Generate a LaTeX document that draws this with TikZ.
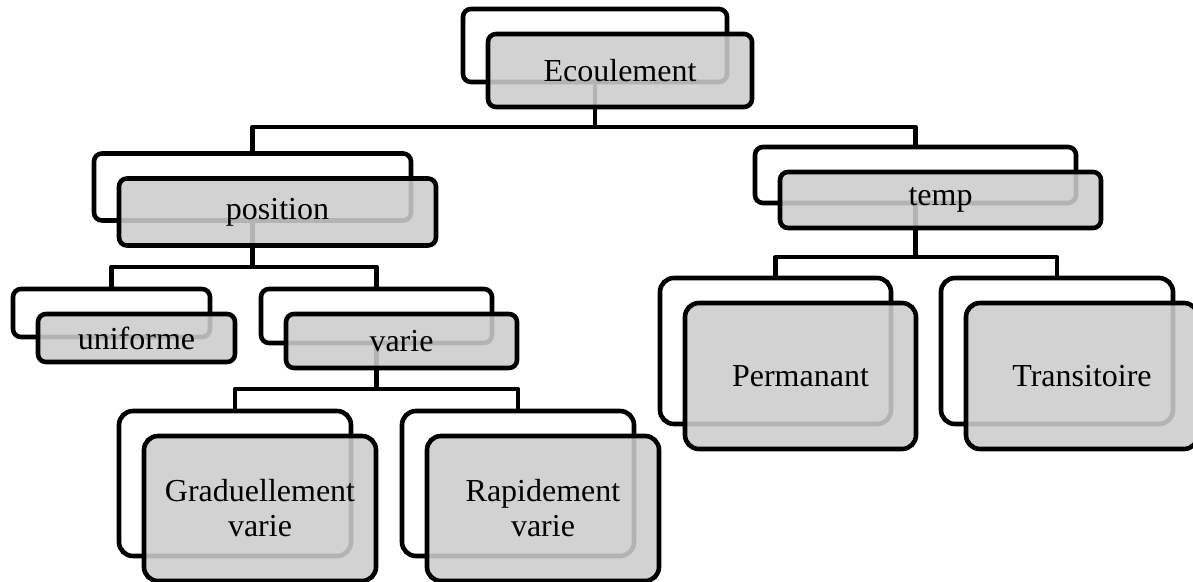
\documentclass[tikz,border=0pt]{standalone}
\usepackage{fontspec}
\setmainfont{Liberation Serif}
\definecolor{boxgray}{RGB}{204,204,204}
\begin{document}
\begin{tikzpicture}[x=0.5pt, y=-0.5pt,
  backbox/.style={rectangle, draw, line width=2.3pt, rounded corners=4pt, inner sep=0pt},
  frontbox/.style={backbox, fill=boxgray, fill opacity=0.88, text opacity=1, align=center, font=\fontsize{16}{17.5}\selectfont},
  link/.style={line width=2.3pt, line join=round}]
\clip (0,0) rectangle (1193,582);
\node[backbox, minimum width=132pt, minimum height=36.5pt] (bid0) at (595,45.5){};
\node[backbox, minimum width=158.5pt, minimum height=33.5pt] (bid1) at (252.5,187){};
\node[backbox, minimum width=160.5pt, minimum height=28pt] (bid2) at (915.5,175){};
\node[backbox, minimum width=98.5pt, minimum height=24pt] (bid3) at (111.5,313){};
\node[backbox, minimum width=115.5pt, minimum height=27pt] (bid4) at (376.5,316){};
\node[backbox, rounded corners=7pt, minimum width=116pt, minimum height=72.5pt] (bid5) at (235,483.5){};
\node[backbox, rounded corners=7pt, minimum width=116pt, minimum height=72.5pt] (bid6) at (518,483.5){};
\node[backbox, rounded corners=7pt, minimum width=115.5pt, minimum height=73pt] (bid7) at (775.5,351){};
\node[backbox, rounded corners=7pt, minimum width=116pt, minimum height=73pt] (bid8) at (1057,351){};
% connectors
\coordinate (hid0) at (595,127);
\coordinate (hid1) at (252.5,267);
\coordinate (hid2) at (915.5,257);
\coordinate (hid4) at (376.5,389);
\draw[link] (bid0.south) -- (hid0);
\draw[link] (bid1.north) |- (hid0) -| (bid2.north);
\draw[link] (bid1.south) -- (hid1);
\draw[link] (bid3.north) |- (hid1) -| (bid4.north);
\draw[link] (bid4.south) -- (hid4);
\draw[link] (bid5.north) |- (hid4) -| (bid6.north);
\draw[link] (bid2.south) -- (hid2);
\draw[link] (bid7.north) |- (hid2) -| (bid8.north);
% front boxes
\node[frontbox, minimum width=132pt, minimum height=36.5pt] (fid0) at (620,70.5){Ecoulement};
\node[frontbox, minimum width=158.5pt, minimum height=33.5pt] (fid1) at (277.5,212){position};
\node[frontbox, minimum width=160.5pt, minimum height=28pt] (fid2) at (940.5,200){temp};
\node[frontbox, minimum width=98.5pt, minimum height=24pt] (fid3) at (136.5,338){uniforme};
\node[frontbox, minimum width=115.5pt, minimum height=27pt] (fid4) at (401.5,341){varie};
\node[frontbox, rounded corners=7pt, minimum width=116pt, minimum height=72.5pt] (fid5) at (260,508.5){Graduellement\\varie};
\node[frontbox, rounded corners=7pt, minimum width=116pt, minimum height=72.5pt] (fid6) at (543,508.5){Rapidement\\varie};
\node[frontbox, rounded corners=7pt, minimum width=115.5pt, minimum height=73pt] (fid7) at (800.5,376){Permanant};
\node[frontbox, rounded corners=7pt, minimum width=116pt, minimum height=73pt] (fid8) at (1082,376){Transitoire};
\end{tikzpicture}
\end{document}
